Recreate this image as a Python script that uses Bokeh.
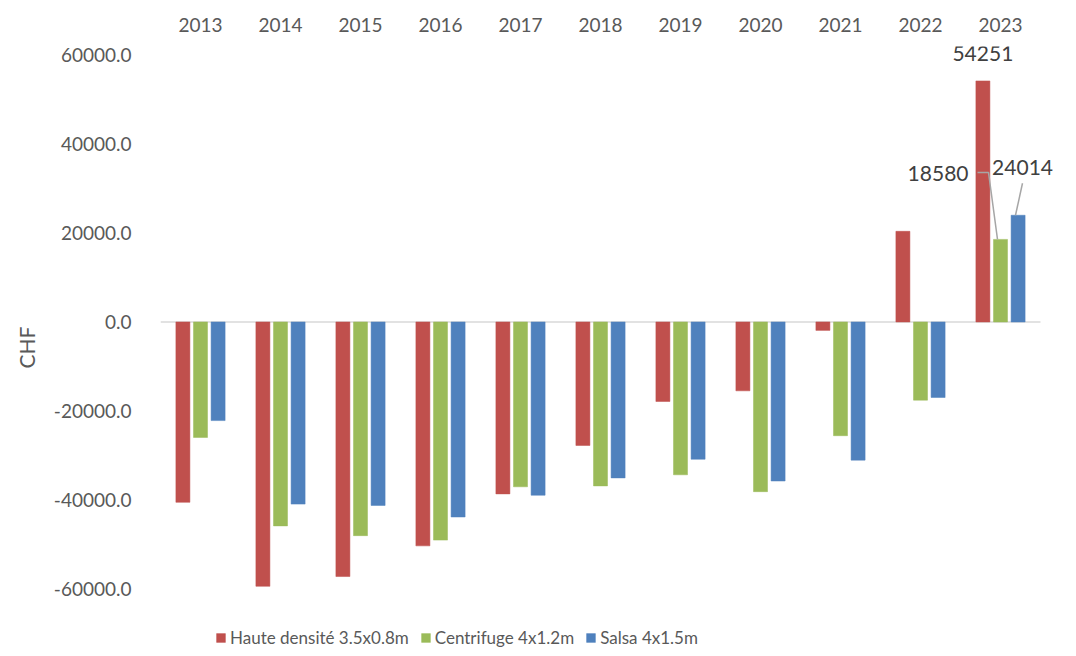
import numpy as np
from bokeh.plotting import figure
from bokeh.core.properties import value
from bokeh.models import (ColumnDataSource, Range1d, FixedTicker, NumeralTickFormatter,
                          Legend, LegendItem, LabelSet)
from bokeh.embed import file_html
from bokeh.resources import INLINE

# ---------------- data ----------------
years = ["2013", "2014", "2015", "2016", "2017", "2018", "2019", "2020", "2021", "2022", "2023"]
haute = [-40600, -59500, -57300, -50400, -38700, -27800, -17900, -15500, -1900, 20400, 54251]
centrifuge = [-26000, -45900, -48100, -49100, -37100, -36900, -34400, -38200, -25600, -17600, 18580]
salsa = [-22200, -41000, -41300, -43900, -39000, -35100, -30900, -35800, -31100, -17000, 24014]
series_names = ["Haute densité 3.5x0.8m", "Centrifuge 4x1.2m", "Salsa 4x1.5m"]
y_ticks = [-60000, -40000, -20000, 0, 20000, 40000, 60000]

# ---------------- style ----------------
colors = ["#C0504D", "#9BBB59", "#4F81BD"]
offsets = [-0.22, 0.0, 0.22]
bar_width = 0.175
FONT = "Lato"
TXT = "#595959"
LBL = "#404040"

n = len(years)
p = figure(width=1060, height=648,
           x_range=Range1d(-0.5, n - 0.3),
           y_range=Range1d(-73500, 62000),
           x_axis_location="above",
           output_backend="svg", toolbar_location=None,
           min_border_left=160, min_border_right=4,
           min_border_top=46, min_border_bottom=0)
p.outline_line_color = None
p.grid.visible = False
p.background_fill_color = "white"
p.border_fill_color = "white"

idx = np.arange(n)

# zero line across the categories
p.segment(x0=[-0.5], x1=[n - 0.5], y0=[0], y1=[0], line_color="#D9D9D9", line_width=1.5)

renderers = []
for vals, col, off in zip([haute, centrifuge, salsa], colors, offsets):
    src = ColumnDataSource(dict(x=idx + off, top=vals))
    r = p.vbar(x="x", top="top", bottom=0, width=bar_width, source=src,
               fill_color=col, line_color=col, line_alpha=0.5, line_width=1)
    renderers.append(r)

# axes
xa = p.xaxis[0]
xa.ticker = FixedTicker(ticks=list(idx))
xa.major_label_overrides = {int(i): y for i, y in zip(idx, years)}
xa.axis_line_color = None
xa.major_tick_line_color = None
xa.minor_tick_line_color = None
xa.major_label_text_font = FONT
xa.major_label_text_font_size = "19px"
xa.major_label_text_color = TXT
xa.major_label_standoff = 9

ya = p.yaxis[0]
ya.ticker = FixedTicker(ticks=y_ticks)
ya.formatter = NumeralTickFormatter(format="0.0")
ya.axis_line_color = None
ya.major_tick_line_color = None
ya.minor_tick_line_color = None
ya.major_label_text_font = FONT
ya.major_label_text_font_size = "19px"
ya.major_label_text_color = TXT
ya.major_label_standoff = 23
ya.axis_label = "CHF"
ya.axis_label_text_font = FONT
ya.axis_label_text_font_size = "21px"
ya.axis_label_text_font_style = "normal"
ya.axis_label_text_color = TXT
ya.axis_label_standoff = 12

# data labels for last year
last = n - 1
lab_vals = [haute[last], centrifuge[last], salsa[last]]
lab_x = [last + o for o in offsets]
lab_xoff = [0, -32, -26]
lab_yoff = [27, 66, 48]
lab_align = ["center", "right", "left"]
lsrc = ColumnDataSource(dict(x=lab_x, y=lab_vals, text=[str(v) for v in lab_vals],
                             xo=lab_xoff, yo=lab_yoff, al=lab_align))
p.add_layout(LabelSet(x="x", y="y", text="text", x_offset="xo", y_offset="yo",
                      text_align="al", text_baseline="middle", source=lsrc,
                      text_font=value(FONT), text_font_size="21px", text_color=LBL))

# leader lines (px -> data conversion from frame scale)
px_x = 1.0 / 80.0
px_y = 120000.0 / 533.0
gx, gy = lab_x[1], lab_vals[1]
bx, by = lab_x[2], lab_vals[2]
p.multi_line(xs=[[gx - 23 * px_x, gx - 12 * px_x, gx - 3 * px_x],
                 [bx + 4.4 * px_x, bx - 2.6 * px_x]],
             ys=[[gy + 67 * px_y, gy + 67 * px_y, gy],
                 [by + 32 * px_y, by]],
             line_color="#A6A6A6", line_width=1.5)

legend = Legend(items=[LegendItem(label=nm, renderers=[r]) for nm, r in zip(series_names, renderers)],
                orientation="horizontal", location=(55, 0),
                glyph_width=11, glyph_height=11, label_standoff=4, spacing=11,
                padding=0, margin=0, label_text_font=FONT, label_text_font_size="17px",
                label_text_color=TXT, border_line_color=None, background_fill_alpha=0)
p.add_layout(legend, "center")

open("out.html", "w").write(file_html(p, INLINE))
